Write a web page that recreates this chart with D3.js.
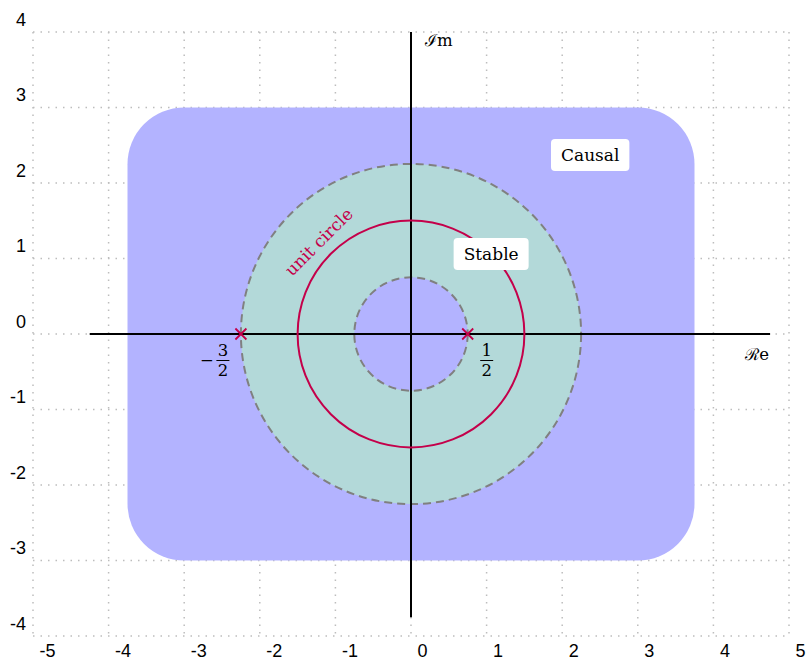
<!DOCTYPE html>
<html>
<head>
<meta charset="utf-8">
<script src="https://cdn.jsdelivr.net/npm/d3@7"></script>
<style>
  html, body { margin: 0; padding: 0; background: #fff; }
  svg { display: block; }
</style>
</head>
<body>
<svg id="chart" width="807" height="660"></svg>
<script>
// ---- data ----
const xTicks = [-5, -4, -3, -2, -1, 0, 1, 2, 3, 4, 5];
const yTicks = [-4, -3, -2, -1, 0, 1, 2, 3, 4];
const xTickLabels = ["-5", "-4", "-3", "-2", "-1", "0", "1", "2", "3", "4", "5"];
const yTickLabels = ["-4", "-3", "-2", "-1", "0", "1", "2", "3", "4"];
const causalBox = [-3.75, -3, 3.75, 3];      // x0, y0, x1, y1
const causalCorner = [0.75];
const stableRadii = [0.75, 2.25];            // inner, outer (ROC annulus)
const unitRadius = [1.5];
const realAxisExtent = [-4.25, 4.75];
const imagAxisExtent = [-3.75, 4];
const poleRe = [-2.25, 0.75];
const poleSign = ["\u2212", ""];
const poleNum = ["3", "1"];
const poleDen = ["2", "2"];
const regionLabels = ["Causal", "Stable"];
const regionLabelX = [2.37, 1.06];
const regionLabelY = [2.37, 1.06];
const unitLabel = ["unit circle"];
const unitLabelAngle = [135];
const axisLabels = ["\u211Be", "\u2110m"];

// ---- scales ----
const svg = d3.select("#chart");
const x = d3.scaleLinear().domain([-5, 5]).range([33, 789]);
const y = d3.scaleLinear().domain([-4, 4]).range([636, 32]);
const k = x(1) - x(0);

const red = "#c4004a";
const serif = "'DejaVu Serif', 'Liberation Serif', serif";

// ---- grid ----
const grid = svg.append("g").attr("stroke", "#bdbdbd").attr("stroke-width", 1.5)
  .attr("stroke-dasharray", "1.5 6");
grid.selectAll("line.v").data(xTicks).join("line")
  .attr("x1", d => x(d)).attr("x2", d => x(d))
  .attr("y1", y(4)).attr("y2", y(-4));
grid.selectAll("line.h").data(yTicks).join("line")
  .attr("x1", x(-5)).attr("x2", x(5))
  .attr("y1", d => y(d)).attr("y2", d => y(d));

// tick labels
svg.append("g").selectAll("text").data(xTicks).join("text")
  .attr("x", d => x(d) + 6.5).attr("y", 657)
  .attr("font-family", "'Liberation Sans', Arial, sans-serif").attr("font-size", 18)
  .attr("fill", "#000")
  .text((d, i) => xTickLabels[i]);
svg.append("g").selectAll("text").data(yTicks).join("text")
  .attr("x", 26).attr("y", d => y(d) - 6.5)
  .attr("text-anchor", "end")
  .attr("font-family", "'Liberation Sans', Arial, sans-serif").attr("font-size", 18)
  .attr("fill", "#000")
  .text((d, i) => yTickLabels[i]);

// ---- causal region ----
svg.append("rect")
  .attr("x", x(causalBox[0])).attr("y", y(causalBox[3]))
  .attr("width", x(causalBox[2]) - x(causalBox[0]))
  .attr("height", y(causalBox[1]) - y(causalBox[3]))
  .attr("rx", causalCorner[0] * k).attr("ry", causalCorner[0] * k)
  .attr("fill", "#b3b3ff");

// ---- stable annulus ----
const cx = x(0), cy = y(0);
svg.append("path")
  .attr("transform", `translate(${cx},${cy})`)
  .attr("d", d3.arc()({ innerRadius: stableRadii[0] * k, outerRadius: stableRadii[1] * k, startAngle: 0, endAngle: 2 * Math.PI }))
  .attr("fill", "#b3d9d9");
svg.append("g").selectAll("circle").data(stableRadii).join("circle")
  .attr("cx", cx).attr("cy", cy).attr("r", d => d * k)
  .attr("fill", "none").attr("stroke", "#808080").attr("stroke-width", 2)
  .attr("stroke-dasharray", "8 5");

// ---- axes ----
svg.append("line")
  .attr("x1", x(realAxisExtent[0])).attr("x2", x(realAxisExtent[1]))
  .attr("y1", cy).attr("y2", cy)
  .attr("stroke", "#000").attr("stroke-width", 2);
svg.append("line")
  .attr("x1", cx).attr("x2", cx)
  .attr("y1", y(imagAxisExtent[1])).attr("y2", y(imagAxisExtent[0]))
  .attr("stroke", "#000").attr("stroke-width", 2);
svg.append("text")
  .attr("x", x(realAxisExtent[1]) - 1).attr("y", 360)
  .attr("text-anchor", "end")
  .attr("font-family", serif).attr("font-size", 16.5).attr("fill", "#000")
  .text(axisLabels[0]);
svg.append("text")
  .attr("x", cx + 14).attr("y", 46)
  .attr("font-family", serif).attr("font-size", 16.5).attr("fill", "#000")
  .text(axisLabels[1]);

// ---- unit circle ----
svg.append("g").selectAll("circle").data(unitRadius).join("circle")
  .attr("cx", cx).attr("cy", cy).attr("r", d => d * k)
  .attr("fill", "none").attr("stroke", red).attr("stroke-width", 2);
svg.append("g").selectAll("text").data(unitLabel).join("text")
  .attr("transform", (d, i) => {
    const a = unitLabelAngle[i] * Math.PI / 180;
    const r = unitRadius[0] * k + 11;
    return `translate(${cx + r * Math.cos(a)},${cy - r * Math.sin(a)}) rotate(${unitLabelAngle[i] - 180})`;
  })
  .attr("text-anchor", "middle")
  .attr("font-family", serif).attr("font-size", 17).attr("fill", red)
  .text(d => d);

// ---- poles ----
const s = 5.5;
const poleG = svg.append("g").selectAll("g").data(poleRe).join("g")
  .attr("transform", d => `translate(${x(d)},${cy})`);
poleG.append("path")
  .attr("d", `M${-s},${-s}L${s},${s}M${-s},${s}L${s},${-s}`)
  .attr("stroke", red).attr("stroke-width", 1.8).attr("fill", "none");
// fraction labels
const fracX = (d, i) => x(d) + (i === 0 ? -18 : 19);
svg.append("g").selectAll("text").data(poleRe).join("text")
  .attr("x", (d, i) => fracX(d, i)).attr("y", 355.5)
  .attr("text-anchor", "middle").attr("font-family", serif).attr("font-size", 16.5)
  .text((d, i) => poleNum[i]);
svg.append("g").selectAll("text").data(poleRe).join("text")
  .attr("x", (d, i) => fracX(d, i)).attr("y", 376)
  .attr("text-anchor", "middle").attr("font-family", serif).attr("font-size", 16.5)
  .text((d, i) => poleDen[i]);
svg.append("g").selectAll("line").data(poleRe).join("line")
  .attr("x1", (d, i) => fracX(d, i) - 6.5).attr("x2", (d, i) => fracX(d, i) + 6.5)
  .attr("y1", 360.5).attr("y2", 360.5)
  .attr("stroke", "#000").attr("stroke-width", 1);
svg.append("g").selectAll("text").data(poleRe).join("text")
  .attr("x", (d, i) => fracX(d, i) - 9).attr("y", 366)
  .attr("text-anchor", "end").attr("font-family", serif).attr("font-size", 16.5)
  .text((d, i) => poleSign[i]);

// ---- region labels ----
regionLabels.forEach((t, i) => {
  const g = svg.append("g").attr("transform", `translate(${x(regionLabelX[i])},${y(regionLabelY[i])})`);
  const rect = g.append("rect").attr("fill", "#fff").attr("rx", 4).attr("ry", 4);
  const txt = g.append("text").attr("text-anchor", "middle").attr("y", 6)
    .attr("font-family", serif).attr("font-size", 17).attr("fill", "#000").text(t);
  const w = txt.node().getComputedTextLength();
  rect.attr("x", -w / 2 - 10).attr("width", w + 20).attr("y", -16).attr("height", 32);
});
</script>
</body>
</html>
